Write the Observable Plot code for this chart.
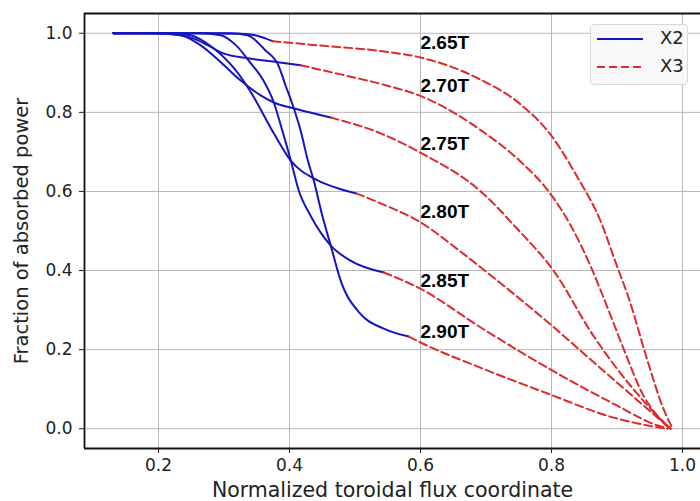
<!DOCTYPE html>
<html>
<head>
<meta charset="utf-8">
<script src="https://cdn.jsdelivr.net/npm/d3@7"></script>
<script src="https://cdn.jsdelivr.net/npm/@observablehq/plot@0.6"></script>
<style>
  html, body { margin: 0; padding: 0; background: #fff; overflow: hidden; }
  #wrap { position: relative; width: 700px; height: 501px; }
  #legend {
    position: absolute; left: 590px; top: 24px; width: 98px; height: 61px;
    box-sizing: border-box; border: 1px solid #d8d8d8; border-radius: 4px;
    background: rgba(248,248,248,0.9);
    font-family: "DejaVu Sans", sans-serif; font-size: 18px; color: #222;
  }
  #legend .row { position: absolute; left: 0; height: 20px; width: 100%; }
  #legend svg { position: absolute; left: 6px; top: 0; }
  #legend span { position: absolute; left: 69px; top: -1px; line-height: 20px; }
</style>
</head>
<body>
<div id="wrap">
  <div id="chart"></div>
  <div id="legend">
    <div class="row" style="top:4px">
      <svg width="48" height="20"><line x1="0" y1="10" x2="46" y2="10" stroke="#1515c0" stroke-width="2"/></svg>
      <span>X2</span>
    </div>
    <div class="row" style="top:32px">
      <svg width="48" height="20"><line x1="0" y1="10" x2="46" y2="10" stroke="#dd2a2a" stroke-width="2" stroke-dasharray="8,4"/></svg>
      <span>X3</span>
    </div>
  </div>
</div>
<script>
// Field labels
const fields = ["2.65T", "2.70T", "2.75T", "2.80T", "2.85T", "2.90T"];
const labelX = 0.6;
const labelY = [0.975, 0.866, 0.720, 0.549, 0.375, 0.244];

// X2 (blue, solid) segments: [normalized toroidal flux, fraction of absorbed power]
const x2_265 = [[0.131,1.0],[0.26,1.0],[0.325,0.999],[0.348,0.995],[0.363,0.987],[0.374,0.980]];
const x2_270 = [[0.131,1.0],[0.188,1.0],[0.234,0.995],[0.253,0.987],[0.275,0.970],[0.299,0.949],[0.336,0.937],[0.382,0.927],[0.417,0.919]];
const x2_275 = [[0.131,1.0],[0.203,1.0],[0.234,0.995],[0.264,0.970],[0.295,0.927],[0.325,0.881],[0.356,0.843],[0.376,0.825],[0.412,0.808],[0.463,0.787]];
const x2_280 = [[0.131,1.0],[0.218,1.0],[0.249,0.995],[0.284,0.962],[0.318,0.906],[0.341,0.851],[0.376,0.747],[0.402,0.678],[0.443,0.628],[0.470,0.610],[0.502,0.595]];
const x2_285 = [[0.131,1.0],[0.264,1.0],[0.295,0.995],[0.318,0.970],[0.341,0.924],[0.360,0.881],[0.376,0.825],[0.389,0.754],[0.402,0.678],[0.414,0.603],[0.432,0.539],[0.463,0.463],[0.493,0.425],[0.544,0.395]];
const x2_290 = [[0.131,1.0],[0.310,1.0],[0.336,0.995],[0.363,0.957],[0.383,0.919],[0.394,0.868],[0.405,0.818],[0.417,0.754],[0.428,0.678],[0.437,0.628],[0.450,0.539],[0.463,0.463],[0.478,0.375],[0.508,0.291],[0.544,0.253],[0.582,0.233]];

// X3 (red, dashed) segments
const x3_265 = [[0.374,0.980],[0.447,0.969],[0.539,0.955],[0.602,0.938],[0.689,0.885],[0.753,0.820],[0.798,0.745],[0.840,0.635],[0.875,0.525],[0.898,0.420],[0.918,0.330],[0.947,0.170],[0.971,0.050],[0.985,0.0]];
const x3_270 = [[0.417,0.919],[0.478,0.896],[0.539,0.872],[0.605,0.838],[0.692,0.755],[0.753,0.675],[0.798,0.595],[0.829,0.515],[0.860,0.410],[0.887,0.300],[0.913,0.190],[0.940,0.085],[0.966,0.025],[0.982,0.0]];
const x3_275 = [[0.463,0.787],[0.539,0.747],[0.600,0.698],[0.692,0.600],[0.748,0.505],[0.803,0.400],[0.864,0.235],[0.925,0.100],[0.966,0.025],[0.982,0.0]];
const x3_280 = [[0.502,0.595],[0.539,0.570],[0.600,0.522],[0.661,0.448],[0.707,0.388],[0.794,0.270],[0.870,0.160],[0.936,0.065],[0.966,0.022],[0.981,0.0]];
const x3_285 = [[0.544,0.395],[0.600,0.354],[0.692,0.256],[0.794,0.154],[0.895,0.063],[0.962,0.008],[0.978,0.0]];
const x3_290 = [[0.582,0.233],[0.600,0.218],[0.692,0.154],[0.794,0.089],[0.895,0.028],[0.947,0.008],[0.975,0.0]];

const xTicks = [0.2, 0.4, 0.6, 0.8, 1.0];
const yTicks = [0.0, 0.2, 0.4, 0.6, 0.8, 1.0];
const xLabel = "Normalized toroidal flux coordinate";
const yLabel = "Fraction of absorbed power";

const xDomain = [0.087, 1.0275];
const yDomain = [-0.05, 1.05];

const x2Sets = [x2_265, x2_270, x2_275, x2_280, x2_285, x2_290];
const x3Sets = [x3_265, x3_270, x3_275, x3_280, x3_285, x3_290];
const tidy = (sets) => sets.flatMap((s, i) => s.map(([x, y]) => ({field: fields[i], x, y})));
const x2Data = tidy(x2Sets);
const x3Data = tidy(x3Sets);
const labels = fields.map((f, i) => ({f, x: labelX, y: labelY[i]}));

const BLUE = "#1515c0", RED = "#dd2a2a";
const tickFont = "DejaVu Sans, sans-serif";

const chart = Plot.plot({
  width: 700,
  height: 501,
  marginLeft: 84,
  marginRight: 0,
  marginTop: 13,
  marginBottom: 53,
  style: {fontFamily: tickFont, background: "#fff", overflow: "visible"},
  x: {domain: xDomain},
  y: {domain: yDomain},
  marks: [
    Plot.gridX(xTicks, {stroke: "#b8b8b8", strokeOpacity: 1, strokeWidth: 1}),
    Plot.gridY(yTicks, {stroke: "#b8b8b8", strokeOpacity: 1, strokeWidth: 1}),
    Plot.line(x2Data, {x: "x", y: "y", z: "field", stroke: BLUE, strokeWidth: 2, curve: "monotone-x"}),
    Plot.line(x3Data, {x: "x", y: "y", z: "field", stroke: RED, strokeWidth: 2, strokeDasharray: "8,4", curve: "monotone-x"}),
    Plot.text(labels, {x: "x", y: "y", text: "f", textAnchor: "start", fontSize: 19, fontWeight: "bold", fontFamily: "Liberation Sans, Arial, sans-serif", fill: "#000"}),
    Plot.ruleY([yDomain[0], yDomain[1]], {stroke: "#111", strokeWidth: 1.8}),
    Plot.ruleX([xDomain[0]], {stroke: "#111", strokeWidth: 1.8}),
    Plot.axisX(xTicks, {tickFormat: d3.format(".1f"), tickSize: 5, tickPadding: 5, fontSize: 17, label: null, stroke: "#222", color: "#222"}),
    Plot.axisY(yTicks, {tickFormat: d3.format(".1f"), tickSize: 5, tickPadding: 7, fontSize: 17, label: null, stroke: "#222", color: "#222"}),
    Plot.text([xLabel], {frameAnchor: "bottom", dy: 42, lineAnchor: "middle", textAnchor: "middle", text: d => d, fontSize: 20.5, fill: "#222"}),
    Plot.text([yLabel], {frameAnchor: "left", dx: -63, rotate: -90, lineAnchor: "middle", textAnchor: "middle", text: d => d, fontSize: 19.5, fill: "#222"})
  ]
});
document.getElementById("chart").appendChild(chart);
</script>
</body>
</html>
